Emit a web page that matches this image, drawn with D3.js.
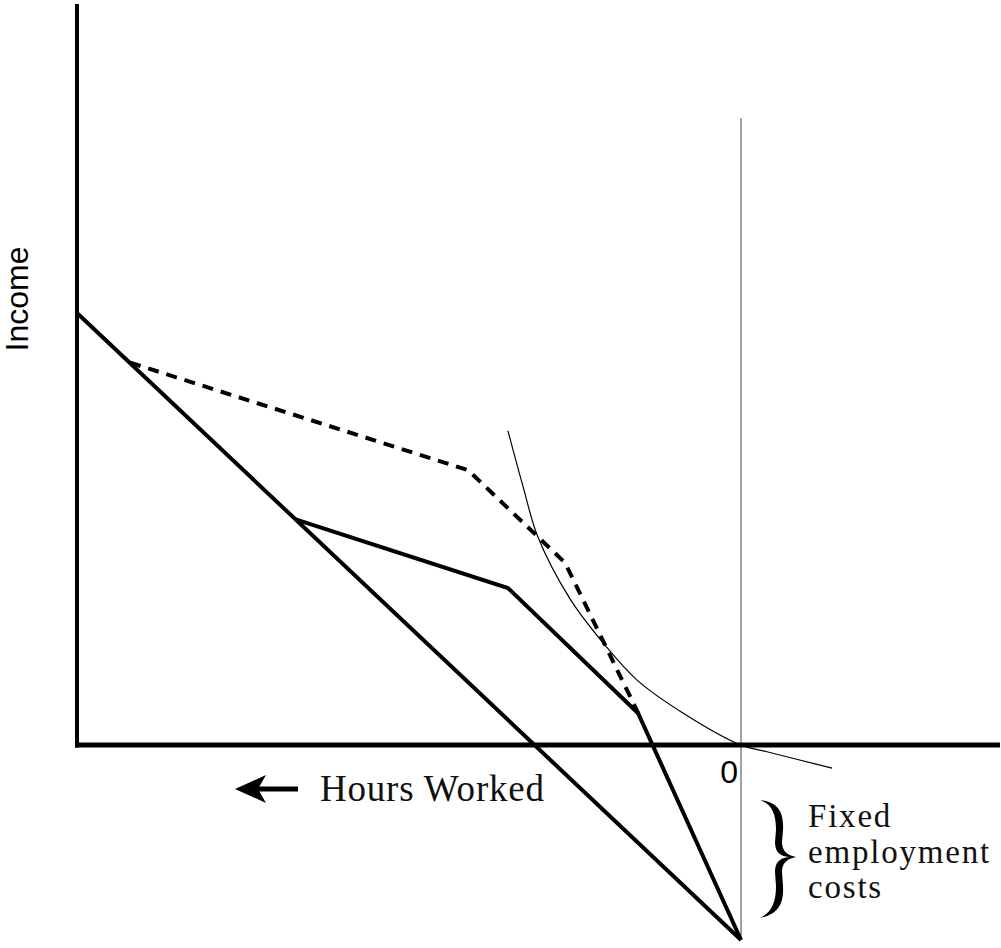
<!DOCTYPE html>
<html>
<head>
<meta charset="utf-8">
<script src="https://cdn.jsdelivr.net/npm/d3@7"></script>
<style>
  html, body { margin: 0; padding: 0; background: #fff; }
  svg { display: block; }
</style>
</head>
<body>
<svg id="chart" width="1001" height="948"></svg>
<script>
// ---- Data (hours worked measured leftwards from the origin, income upward) ----
const budgetLine     = [[100, 58.3], [0, -26.3]];
const kinkedBudget   = [[67.2, 30.5], [35.1, 21.2], [15.5, 4.3], [0, -26.3]];
const dashedBudget   = [[92.0, 51.6], [41.1, 37.1], [26.5, 24.6], [15.1, 3.6]];
const indifference   = [[35.1, 42.4], [32.8, 34.8], [30.6, 28.1], [25.8, 19.8], [20.5, 13.5],
                        [15.7, 8.8], [8.7, 4.3], [0, 0], [-3.9, -0.9], [-13.7, -3.1]];
const hoursExtent    = [100, -39];     // left edge .. right edge
const incomeExtent   = [-26.3, 100];   // bottom .. top
const guideTop       = 84.6;           // top of the thin vertical line at zero hours
const axisLabels     = { x: "Hours Worked", y: "Income", origin: "0" };
const braceLabel     = ["Fixed", "employment", "costs"];

const svg = d3.select("#chart");

const x = d3.scaleLinear().domain(hoursExtent).range([77, 1000]);
const y = d3.scaleLinear().domain(incomeExtent).range([940, 4]);

// thin gray vertical line at zero hours
svg.append("line")
  .attr("x1", x(0)).attr("x2", x(0))
  .attr("y1", y(guideTop)).attr("y2", y(incomeExtent[0]))
  .attr("stroke", "#8a8a8a").attr("stroke-width", 1.6);

// axes
svg.append("line")
  .attr("x1", x(hoursExtent[0])).attr("x2", x(hoursExtent[0]))
  .attr("y1", y(incomeExtent[1])).attr("y2", y(0) + 2.5)
  .attr("stroke", "#000").attr("stroke-width", 4);
svg.append("line")
  .attr("x1", x(hoursExtent[0]) - 2).attr("x2", x(hoursExtent[1]))
  .attr("y1", y(0)).attr("y2", y(0))
  .attr("stroke", "#000").attr("stroke-width", 5);

// indifference curve
const smooth = d3.line().x(d => x(d[0])).y(d => y(d[1])).curve(d3.curveCatmullRom.alpha(0.5));
svg.append("path")
  .datum(indifference)
  .attr("d", smooth)
  .attr("fill", "none").attr("stroke", "#000").attr("stroke-width", 1.2);

const straight = d3.line().x(d => x(d[0])).y(d => y(d[1]));

// budget lines
svg.append("path").datum(budgetLine).attr("d", straight)
  .attr("fill", "none").attr("stroke", "#000").attr("stroke-width", 4);
svg.append("path").datum(kinkedBudget).attr("d", straight)
  .attr("fill", "none").attr("stroke", "#000").attr("stroke-width", 4)
  .attr("stroke-linejoin", "miter");
svg.append("path").datum(dashedBudget).attr("d", straight)
  .attr("fill", "none").attr("stroke", "#000").attr("stroke-width", 4)
  .attr("stroke-dasharray", "11,8");

// labels
svg.append("text")
  .attr("transform", `translate(28, 299) rotate(-90)`)
  .attr("text-anchor", "middle")
  .attr("font-family", "Liberation Sans, Arial, sans-serif")
  .attr("font-size", 32)
  .text(axisLabels.y);

svg.append("text")
  .attr("x", x(0) - 12).attr("y", 783)
  .attr("text-anchor", "middle")
  .attr("font-family", "Liberation Sans, Arial, sans-serif")
  .attr("font-size", 32)
  .text(axisLabels.origin);

svg.append("text")
  .attr("x", 320).attr("y", 801)
  .attr("font-family", "Liberation Serif, Times New Roman, serif")
  .attr("font-size", 37)
  .attr("letter-spacing", 0.8)
  .attr("fill", "#111")
  .text(axisLabels.x);

// arrow
svg.append("line")
  .attr("x1", 298).attr("x2", 252).attr("y1", 789).attr("y2", 789)
  .attr("stroke", "#000").attr("stroke-width", 5);
svg.append("path")
  .attr("d", "M235,789 L266,775 L258,789 L266,803 Z")
  .attr("fill", "#000");

// brace
svg.append("path")
  .attr("d", "M760,800 C778,802 784,812 783,830 L782,842 C782,850 786,855 796,857 " +
             "C786,859 782,864 782,872 L783,886 C784,904 778,914 760,918 " +
             "C772,912 776,902 776,886 L775,872 C775,862 780,858 789,857 " +
             "C780,856 775,852 775,842 L776,830 C776,814 772,804 760,800 Z")
  .attr("fill", "#000");

braceLabel.forEach((s, i) => {
  svg.append("text")
    .attr("x", 808).attr("y", 827 + i * 35.5)
    .attr("font-family", "Liberation Serif, Times New Roman, serif")
    .attr("font-size", 33)
    .attr("letter-spacing", 1.8)
    .attr("fill", "#111")
    .text(s);
});
</script>
</body>
</html>
